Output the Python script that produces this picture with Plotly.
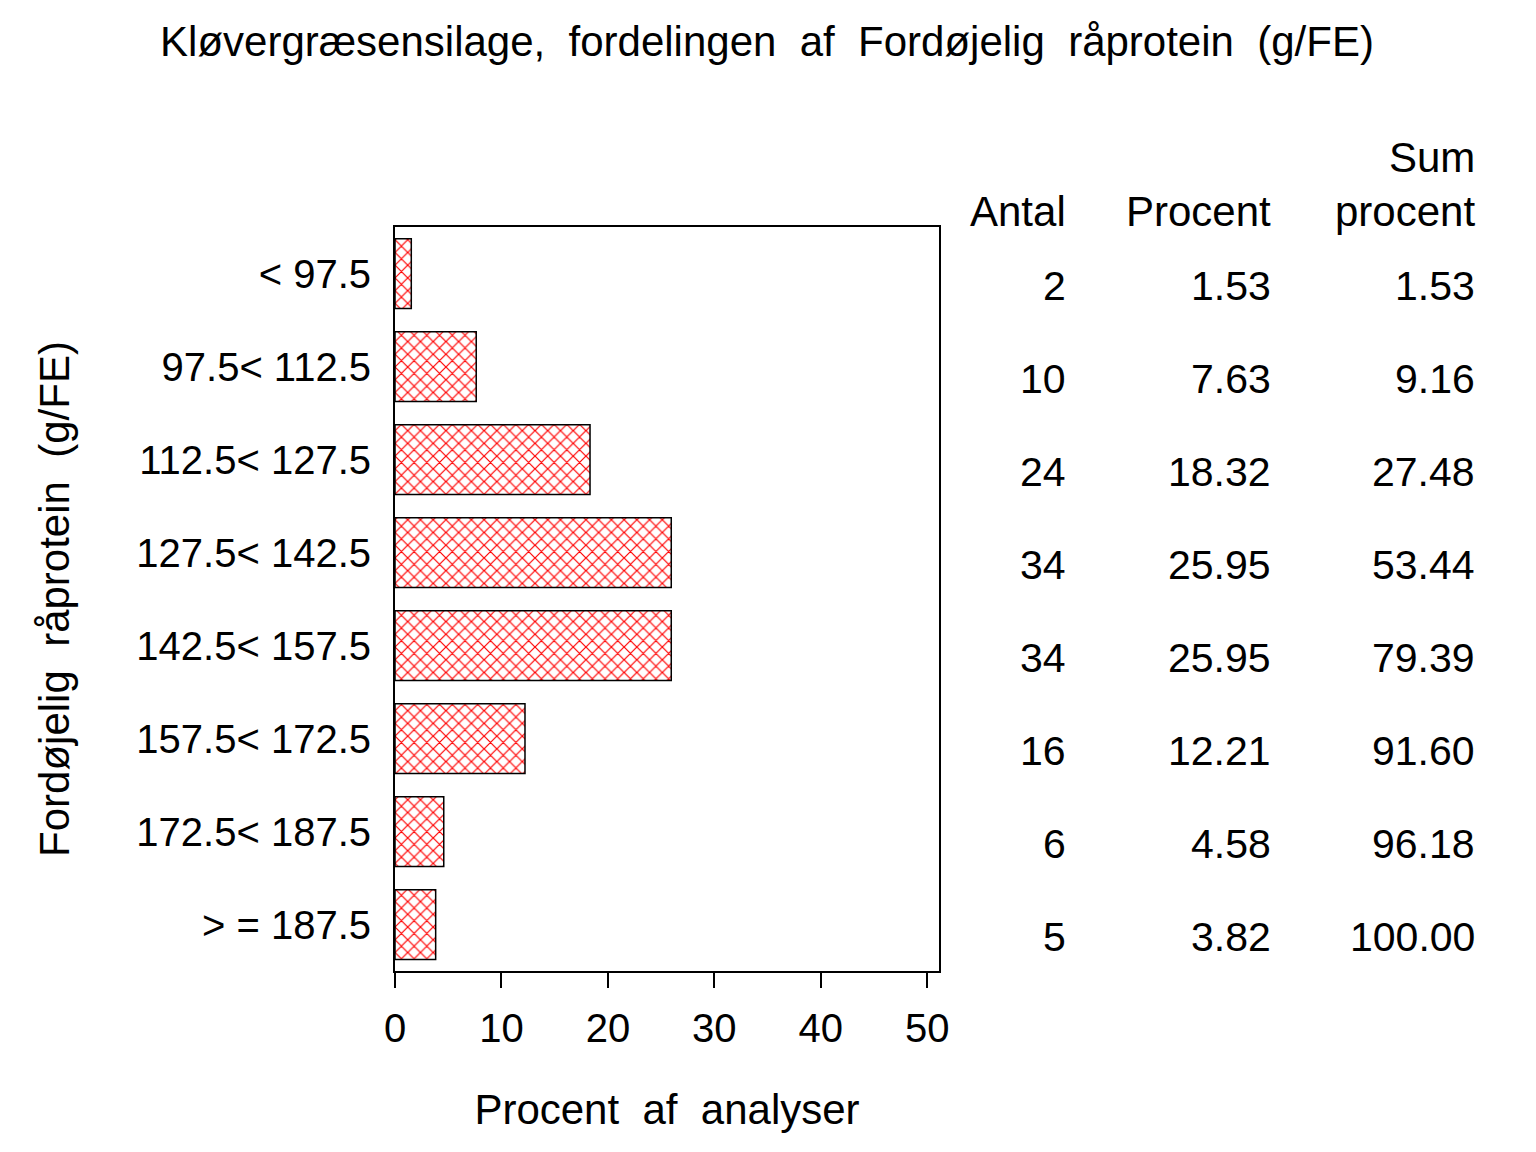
import plotly.graph_objects as go

# interval labels and counts
categories = ["< 97.5", "97.5< 112.5", "112.5< 127.5", "127.5< 142.5",
              "142.5< 157.5", "157.5< 172.5", "172.5< 187.5", "> = 187.5"]
antal = [2, 10, 24, 34, 34, 16, 6, 5]
procent = [1.53, 7.63, 18.32, 25.95, 25.95, 12.21, 4.58, 3.82]
sum_procent = [1.53, 9.16, 27.48, 53.44, 79.39, 91.60, 96.18, 100.00]
x_ticks = [0, 10, 20, 30, 40, 50]

FONT = "Liberation Sans, Arial, sans-serif"
W, H = 1536, 1152
OFF = 7  # page body offset in the screenshot
L, R, T, B = 394 - OFF, 938 - OFF, 226 - OFF, 970 - OFF

fig = go.Figure()
fig.add_trace(go.Bar(
    x=procent, y=categories, orientation="h", width=0.75,
    marker=dict(color="white",
                line=dict(color="black", width=1.5),
                pattern=dict(shape="x", fgcolor="#ff0000", fgopacity=1, bgcolor="white",
                             size=9, solidity=0.25)),
    hoverinfo="x+y",
))

# table to the right of the plot
def px_to_paper(px):
    return (px - OFF - L) / (R - L)

def py_to_paper(py):
    return 1 - (py - OFF - T) / (B - T)

cols = [(1067, "Antal", antal, "{:d}"),
        (1272, "Procent", procent, "{:.2f}"),
        (1476, "procent", sum_procent, "{:.2f}")]
ann = []
for xp, head, vals, fmt in cols:
    ann.append(dict(x=px_to_paper(xp), y=py_to_paper(211), xref="paper", yref="paper",
                    text=head, showarrow=False, xanchor="right", yanchor="middle",
                    font=dict(size=42, color="black", family=FONT)))
    for cat, v in zip(categories, vals):
        ann.append(dict(x=px_to_paper(xp), y=cat, xref="paper", yref="y",
                        text=fmt.format(v), showarrow=False, xanchor="right",
                        yanchor="middle", yshift=-12,
                        font=dict(size=41, color="black", family=FONT)))
ann.append(dict(x=px_to_paper(1476), y=py_to_paper(157), xref="paper", yref="paper",
                text="Sum", showarrow=False, xanchor="right", yanchor="middle",
                font=dict(size=42, color="black", family=FONT)))

fig.update_layout(
    width=W, height=H,
    margin=dict(l=L, r=W - R, t=T, b=H - B, autoexpand=False),
    paper_bgcolor="white", plot_bgcolor="white",
    font=dict(family=FONT, size=40, color="black"),
    title=dict(text="Kløvergræsensilage,  fordelingen  af  Fordøjelig  råprotein  (g/FE)",
               x=(766 - OFF) / W, xanchor="center", y=1 - (40 - OFF) / H, yanchor="middle",
               font=dict(size=42, family=FONT)),
    showlegend=False,
    bargap=0.25,
    annotations=ann,
)
fig.update_xaxes(
    range=[0, 51.1], tickvals=x_ticks, ticks="outside", ticklen=15, tickwidth=1.5,
    tickcolor="black", showline=True, linecolor="black", linewidth=2, mirror=True,
    showgrid=False, zeroline=False, tickfont=dict(size=40),
    ticklabelstandoff=6,
    title=dict(text="Procent  af  analyser", standoff=46, font=dict(size=42)),
)
fig.update_yaxes(
    autorange="reversed", ticks="", showline=True, linecolor="black", linewidth=2,
    mirror=True, showgrid=False, tickfont=dict(size=40), ticklabelstandoff=14,
    title=dict(text="Fordøjelig  råprotein  (g/FE)", standoff=54, font=dict(size=42)),
)

fig.write_html("out.html")
